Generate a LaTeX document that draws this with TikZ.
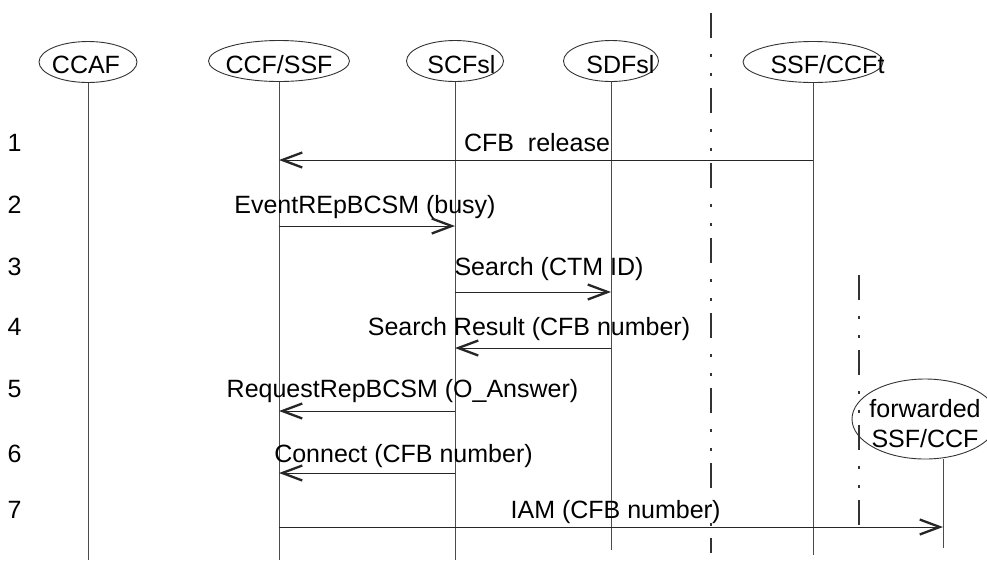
\documentclass[tikz,border=0pt]{standalone}
\usepackage{fontspec}
\setmainfont{Liberation Sans}
\usetikzlibrary{arrows.meta,shapes.geometric}
\begin{document}
\begin{tikzpicture}[x=1pt,y=-1pt,
  lbl/.style={font=\fontsize{25}{30}\selectfont, inner sep=0pt, anchor=base},
  head/.style={draw=black!80, ellipse, line width=0.9pt, inner sep=0pt, minimum height=41pt},
  life/.style={draw=black!70, line width=1pt},
  msg/.style={draw=black!85, line width=1pt, -{Straight Barb[length=20pt,width=15pt,line width=2.3pt]}},
  sepline/.style={draw=black!80, line width=1.1pt, dash pattern=on 25pt off 16pt on 3pt off 16pt on 3pt off 12pt}]
\useasboundingbox (0,0) rectangle (987,566);

% lifeline heads
\node[head, minimum width=98pt]  (ccaf) at (88,62) {};
\node[head, minimum width=141pt] (ccf)  at (279,61) {};
\node[head, minimum width=97pt]  (scf)  at (455,61) {};
\node[head, minimum width=95pt]  (sdf)  at (611,61) {};
\node[head, minimum width=140pt] (ssft) at (813,62) {};
\node[head, minimum width=146pt, minimum height=80pt] (fwd) at (925,419) {};

\node[lbl] (tccaf) at (86,73) {CCAF};
\node[lbl] (tccf)  at (279,73) {CCF/SSF};
\node[lbl] (tscf)  at (461.5,73) {SCFsl};
\node[lbl] (tsdf)  at (620.5,73) {SDFsl};
\node[lbl] (tssft) at (827.5,73) {SSF/CCFt};
\node[lbl] (tfwd1) at (925,417) {forwarded};
\node[lbl] (tfwd2) at (925,447) {SSF/CCF};

% lifeline ends
\coordinate (eccaf) at (88,560);
\coordinate (eccf)  at (279,560);
\coordinate (escf)  at (455,560);
\coordinate (esdf)  at (611,550);
\coordinate (essft) at (813,555);
\coordinate (lfwd)  at (943,459);
\coordinate (efwd)  at (943,548);

\draw[life] (ccaf.south) -- (eccaf);
\draw[life] (ccf.south) -- (eccf);
\draw[life] (scf.south) -- (escf);
\draw[life] (sdf.south) -- (esdf);
\draw[life] (ssft.south) -- (essft);
\draw[life] (lfwd) -- (efwd);

% separators
\coordinate (d1t) at (711,13);
\coordinate (d1b) at (711,553);
\coordinate (d2t) at (859,275);
\coordinate (d2b) at (859,537);
\draw[sepline] (d1t) -- (d1b);
\draw[sepline] (d2t) -- (d2b);

% rows
\coordinate (r1) at (0,160);
\coordinate (r2) at (0,226);
\coordinate (r3) at (0,292);
\coordinate (r4) at (0,348);
\coordinate (r5) at (0,411);
\coordinate (r6) at (0,473);
\coordinate (r7) at (0,527);

\node[lbl] (n1) at (14.5,151) {1};
\node[lbl] (n2) at (14.5,213) {2};
\node[lbl] (n3) at (14.5,275) {3};
\node[lbl] (n4) at (14.5,335) {4};
\node[lbl] (n5) at (14.5,397) {5};
\node[lbl] (n6) at (14.5,462) {6};
\node[lbl] (n7) at (14.5,518) {7};

% messages
\draw[msg] (ssft |- r1) -- (ccf |- r1);
\node[lbl] (m1) at (537,151) {CFB\ \ release};
\draw[msg] (ccf |- r2) -- (scf |- r2);
\node[lbl] (m2) at (365,213) {EventREpBCSM (busy)};
\draw[msg] (scf |- r3) -- (sdf |- r3);
\node[lbl] (m3) at (549,275) {Search (CTM ID)};
\draw[msg] (sdf |- r4) -- (scf |- r4);
\node[lbl] (m4) at (529,335) {Search Result (CFB number)};
\draw[msg] (scf |- r5) -- (ccf |- r5);
\node[lbl] (m5) at (402.5,397) {RequestRepBCSM (O\_Answer)};
\draw[msg] (scf |- r6) -- (ccf |- r6);
\node[lbl] (m6) at (403.5,462) {Connect (CFB number)};
\draw[msg] (ccf |- r7) -- (lfwd |- r7);
\node[lbl] (m7) at (615.5,518) {IAM (CFB number)};
\end{tikzpicture}
\end{document}
